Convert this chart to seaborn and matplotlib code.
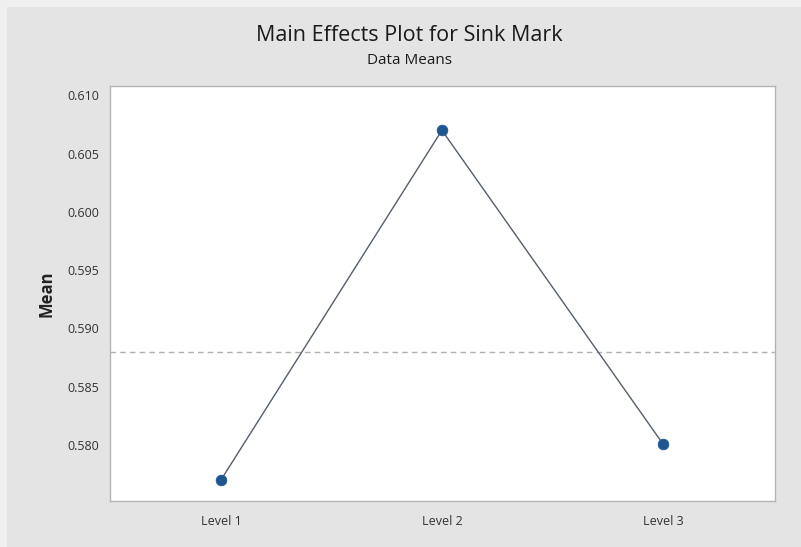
import matplotlib
matplotlib.use("Agg")
import matplotlib.pyplot as plt
import seaborn as sns
import pandas as pd
from matplotlib.patches import Rectangle

levels = ["Level 1", "Level 2", "Level 3"]
means = [0.5770, 0.6070, 0.5801]
grand_mean = 0.5880
y_ticks = [0.580, 0.585, 0.590, 0.595, 0.600, 0.605, 0.610]

df = pd.DataFrame({"Level": levels, "Mean": means})

sns.set_theme(style="white")
plt.rcParams["font.family"] = ["Open Sans", "DejaVu Sans"]

fig = plt.figure(figsize=(8.01, 5.47), dpi=100, facecolor="#f0f0f0")
# gray panel behind the chart
fig.patches.append(Rectangle((0.009, 0.0), 0.991, 0.987, transform=fig.transFigure,
                             facecolor="#e4e4e4", edgecolor="none", zorder=-10))

ax = fig.add_axes([0.1373, 0.0841, 0.8302, 0.7587])
ax.set_zorder(1)
ax.set_facecolor("white")

ax.axhline(grand_mean, color="#b0b0b0", linestyle=(0, (4, 3)), linewidth=1.0, zorder=1)
sns.lineplot(data=df, x="Level", y="Mean", ax=ax, color="#555e6c", linewidth=1.0,
             sort=False, zorder=2)
sns.scatterplot(data=df, x="Level", y="Mean", ax=ax, color="#1f5591", s=60,
                edgecolor="#1f5591", linewidth=0.5, zorder=3)

ax.set_xlim(-0.502, 2.507)
ax.set_ylim(0.5752, 0.6108)
ax.set_yticks(y_ticks)
ax.set_yticklabels([f"{t:.3f}" for t in y_ticks])
ax.set_xlabel("")
ax.set_ylabel("Mean", fontsize=12, fontweight="bold", color="#222222", labelpad=8)

for s in ax.spines.values():
    s.set_color("#b4b4b4")
    s.set_linewidth(1.0)
ax.tick_params(axis="both", which="major", length=4, width=0.8, color="#b4b4b4",
               direction="out", labelsize=9, labelcolor="#333333", pad=4)
ax.tick_params(axis="x", pad=6)

fig.text(0.511, 0.936, "Main Effects Plot for Sink Mark", ha="center", va="center",
         fontsize=15.5, color="#1a1a1a")
fig.text(0.511, 0.890, "Data Means", ha="center", va="center", fontsize=11, color="#1a1a1a")

fig.savefig("out.png", dpi=100, facecolor=fig.get_facecolor())
